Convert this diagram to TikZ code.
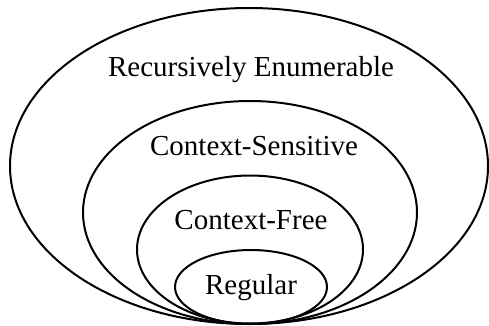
\documentclass[tikz,border=0pt]{standalone}
\usepackage{fontspec}
\setmainfont{Liberation Serif}
\begin{document}
\begin{tikzpicture}[x=1pt,y=-1pt,
  set/.style={draw=black,line width=2pt},
  lbl/.style={anchor=base,inner sep=0pt,font=\fontsize{29}{32}\selectfont}]
\useasboundingbox (0,0) rectangle (489,326);
\draw[set] (249,166) ellipse [x radius=239, y radius=158];
\draw[set] (250,212.5) ellipse [x radius=167, y radius=111.5];
\draw[set] (250,249.5) ellipse [x radius=113, y radius=74];
\draw[set] (251,287) ellipse [x radius=76, y radius=37];
\node[lbl] (re) at (251,77) {Recursively Enumerable};
\node[lbl] (cs) at (254,155) {Context-Sensitive};
\node[lbl] (cf) at (251,229) {Context-Free};
\node[lbl] (rg) at (251,294.5) {Regular};
\end{tikzpicture}
\end{document}
